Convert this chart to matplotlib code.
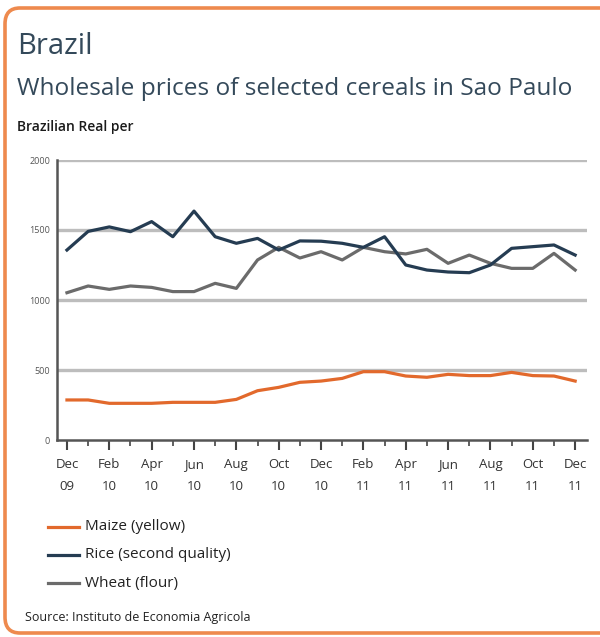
import matplotlib
matplotlib.use("Agg")
import matplotlib.pyplot as plt
from matplotlib.patches import FancyBboxPatch
from matplotlib.lines import Line2D
import numpy as np

plt.rcParams['font.family'] = ['Open Sans', 'DejaVu Sans']

# monthly wholesale prices, Dec 2009 - Dec 2011 (BRL per tonne)
months = ["Dec\n09", "Jan\n10", "Feb\n10", "Mar\n10", "Apr\n10", "May\n10", "Jun\n10",
          "Jul\n10", "Aug\n10", "Sep\n10", "Oct\n10", "Nov\n10", "Dec\n10",
          "Jan\n11", "Feb\n11", "Mar\n11", "Apr\n11", "May\n11", "Jun\n11",
          "Jul\n11", "Aug\n11", "Sep\n11", "Oct\n11", "Nov\n11", "Dec\n11"]
maize = [286, 286, 262, 262, 262, 269, 269, 269, 290, 352, 376, 412, 421,
         440, 488, 488, 457, 448, 469, 460, 460, 483, 460, 457, 421]
rice = [1357, 1490, 1522, 1488, 1560, 1452, 1635, 1452, 1405, 1440, 1357, 1422, 1420,
        1405, 1376, 1452, 1250, 1214, 1200, 1195, 1250, 1369, 1381, 1393, 1321]
wheat = [1052, 1100, 1076, 1100, 1090, 1060, 1060, 1119, 1083, 1286, 1376, 1300, 1345,
         1286, 1376, 1345, 1329, 1362, 1262, 1321, 1262, 1226, 1226, 1333, 1214]
series_names = ["Maize (yellow)", "Rice (second quality)", "Wheat (flour)"]
series_colors = ["#E2692C", "#253C52", "#6B6B6B"]
yticks = [0, 500, 1000, 1500, 2000]

W, H = 600, 637
fig = plt.figure(figsize=(W / 100, H / 100), dpi=100)

# rounded orange frame, right edge runs off the canvas
frame = FancyBboxPatch((5 / W, 4 / H), 620 / W, 625 / H,
                       boxstyle="round,pad=0,rounding_size=0.025",
                       transform=fig.transFigure, facecolor="white",
                       edgecolor="#EE8A4E", linewidth=2.6, zorder=-5)
fig.patches.append(frame)

title_col = "#34495A"
fig.text(17 / W, 1 - 47 / H, "Brazil", fontsize=21, color=title_col, va="center")
fig.text(17 / W, 1 - 89 / H, "Wholesale prices of selected cereals in Sao Paulo",
         fontsize=17.6, color=title_col, va="center")
fig.text(17 / W, 1 - 127 / H, "Brazilian Real per", fontsize=10, color="#1A1A1A",
         va="center", fontweight="semibold")

ax = fig.add_axes([57 / W, 1 - 440 / H, 530 / W, 280 / H], zorder=2)
x = np.arange(len(months))
for vals, c in zip([wheat, rice, maize], [series_colors[2], series_colors[1], series_colors[0]]):
    ax.plot(x, vals, color=c, lw=2.3, solid_joinstyle="round", zorder=3)

ax.set_xlim(-0.47, 24.56)
ax.set_ylim(0, 2000)
ax.set_yticks(yticks)
ax.set_yticklabels([str(v) for v in yticks], fontsize=6.5, color="#555555")
for v in yticks[1:]:
    ax.axhline(v, color="#BDBDBD", lw=2.4, zorder=1)

ax.set_xticks(x[::2])
ax.set_xticklabels(months[::2], fontsize=9.5, color="#333333", linespacing=1.85)
ax.set_xticks(x[1::2], minor=True)
ax.tick_params(axis="x", which="major", length=7, width=1.5, color="#444444", pad=6)
ax.tick_params(axis="x", which="minor", length=4, width=1.2, color="#444444")
ax.tick_params(axis="y", length=0, pad=5)

for s in ["top", "right"]:
    ax.spines[s].set_visible(False)
ax.spines["left"].set_color("#555555")
ax.spines["left"].set_linewidth(1.8)
ax.spines["bottom"].set_color("#555555")
ax.spines["bottom"].set_linewidth(1.8)
ax.set_facecolor("none")

# legend drawn by hand
for i, (name, c) in enumerate(zip(series_names, series_colors)):
    yy = 1 - (527 + 28 * i) / H
    fig.add_artist(Line2D([48 / W, 79 / W], [yy, yy], color=c, lw=2.3,
                          transform=fig.transFigure))
    fig.text(85 / W, yy, name, fontsize=11, color="#222222", va="center")

fig.text(25 / W, 1 - 618 / H, "Source: Instituto de Economia Agricola",
         fontsize=9, color="#222222", va="center")

fig.savefig("out.png", dpi=100)
